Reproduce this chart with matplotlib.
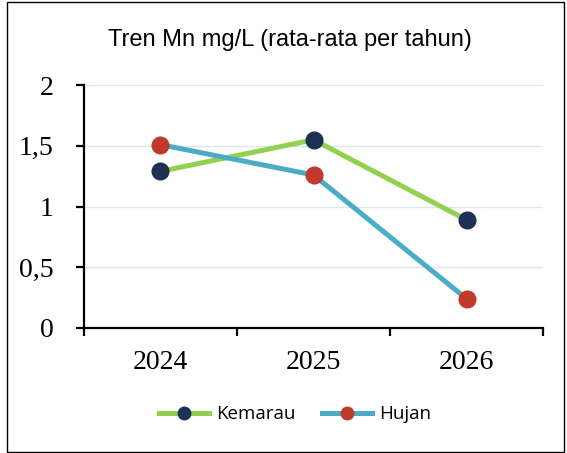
import numpy as np
import matplotlib.pyplot as plt
from matplotlib.patches import Rectangle

years = ['2024', '2025', '2026']
kemarau = [1.29, 1.55, 0.89]
hujan = [1.51, 1.26, 0.24]
title = 'Tren Mn mg/L (rata-rata per tahun)'

fig = plt.figure(figsize=(5.67, 4.53), dpi=100)
ax = fig.add_axes([0.148, 0.276, 0.81, 0.536])

x = np.arange(len(years))
ax.plot(x, kemarau, color='#92D050', lw=3.6, marker='o', ms=12,
        mfc='#1D3153', mec='#1D3153', label='Kemarau', zorder=3)
ax.plot(x, hujan, color='#4BACC6', lw=3.6, marker='o', ms=12,
        mfc='#C0392B', mec='#C0392B', label='Hujan', zorder=3)

ax.set_xlim(-0.5, 2.5)
ax.set_ylim(0, 2)
ax.set_yticks([0, 0.5, 1, 1.5, 2])
ax.set_yticklabels(['0', '0,5', '1', '1,5', '2'], family='Liberation Serif', fontsize=20)
ax.set_xticks([-0.5, 0.5, 1.5, 2.5])
ax.set_xticklabels([])
ax.set_xticks(x, minor=True)
ax.set_xticklabels(years, minor=True, family='Liberation Serif', fontsize=20)
ax.tick_params(axis='x', which='major', direction='out', length=6, width=1.6)
ax.tick_params(axis='x', which='minor', length=0, pad=16)
ax.tick_params(axis='y', direction='out', length=6, width=1.6, pad=16)

ax.grid(axis='y', color='#DCE6F2', lw=1)
ax.set_axisbelow(True)
for s in ['top', 'right']:
    ax.spines[s].set_visible(False)
for s in ['left', 'bottom']:
    ax.spines[s].set_linewidth(1.6)

fig.text(0.512, 0.912, title, ha='center', va='center', family='Liberation Sans', fontsize=17)

leg = fig.legend(loc='center', bbox_to_anchor=(0.52, 0.085), ncol=2, frameon=False,
                 prop={'family': 'Open Sans', 'size': 13.5}, markerscale=0.75,
                 handlelength=2.7, columnspacing=1.4, handletextpad=0.35)

fig.patches.append(Rectangle((0.012, 0.003), 0.983, 0.992, transform=fig.transFigure,
                             fill=False, ec='black', lw=1))

fig.savefig('out.png', dpi=100)
